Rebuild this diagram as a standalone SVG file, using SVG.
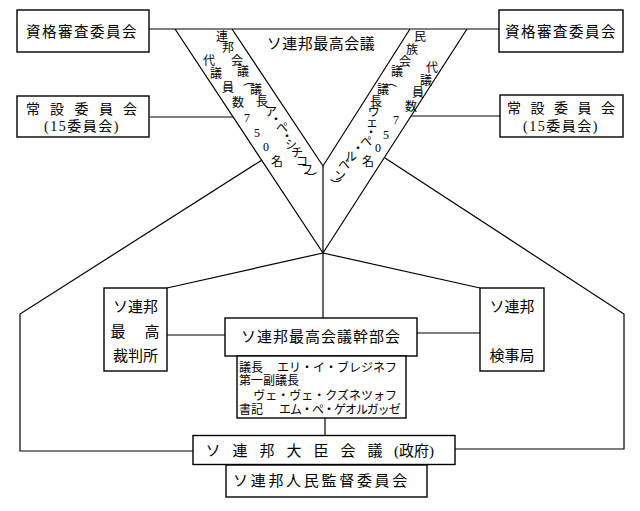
<svg xmlns="http://www.w3.org/2000/svg" width="640" height="511" viewBox="0 0 640 511">
<style>
.b{fill:#fff;stroke:#000;stroke-width:1.4}
.c{fill:none;stroke:#000;stroke-width:1.2}
text{font-family:"Liberation Serif","Noto Sans CJK JP",serif;fill:#000}
.m{text-anchor:middle;dominant-baseline:central}
.s{dominant-baseline:central}
.v{text-anchor:middle;dominant-baseline:central;font-size:12px}
</style>
<rect width="640" height="511" fill="#fff"/>
<g id="connectors" class="c">
<path d="M149,29H175M467,29H499"/>
<path d="M150,117H233M411,116H500"/>
<path d="M323,166V318"/>
<path d="M262,160L20,314V451H193"/>
<path d="M385,158L624,314V449H455"/>
<path d="M323,253L167,288M323,253L480,288"/>
<path d="M167,335H225M417,333H480"/>
<path d="M325,418V435.5"/>
</g>
<g id="supreme-soviet">
<path class="c" d="M175,29H467M175,29L323,253L467,29M232,29L323,166L410,29"/>
<text class="m" x="321" y="44" font-size="15" letter-spacing="0.5">ソ連邦最高会議</text>
<text class="v"><tspan x="222" y="37">連</tspan><tspan x="228" y="48">邦</tspan><tspan x="237" y="61">会</tspan><tspan x="243" y="72">議</tspan><tspan x="249" y="81">︵</tspan><tspan x="256" y="90">議</tspan><tspan x="262" y="102">長</tspan><tspan x="271" y="112">ア</tspan><tspan x="276" y="120">・</tspan><tspan x="282" y="128">ペ</tspan><tspan x="287" y="137">・</tspan><tspan x="291" y="145">シ</tspan><tspan x="297" y="153">チ</tspan><tspan x="302" y="162">コ</tspan><tspan x="307" y="170">フ</tspan><tspan x="311" y="179">︶</tspan></text>
<text class="v"><tspan x="209" y="61">代</tspan><tspan x="216" y="74">議</tspan><tspan x="228" y="88">員</tspan><tspan x="238" y="103">数</tspan><tspan x="247" y="118">7</tspan><tspan x="257" y="133">5</tspan><tspan x="266" y="147">0</tspan><tspan x="277" y="162">名</tspan></text>
<text class="v"><tspan x="420" y="37">民</tspan><tspan x="412" y="50">族</tspan><tspan x="405" y="62">会</tspan><tspan x="397" y="72">議</tspan><tspan x="391" y="82">︵</tspan><tspan x="383" y="90">議</tspan><tspan x="376" y="102">長</tspan><tspan x="374" y="112">ヴ</tspan><tspan x="372" y="123">ェ</tspan><tspan x="371" y="133">・</tspan><tspan x="366" y="142">ペ</tspan><tspan x="358" y="149">・</tspan><tspan x="351" y="157">ル</tspan><tspan x="344" y="165">ベ</tspan><tspan x="340" y="176">ン</tspan><tspan x="336" y="186">︶</tspan></text>
<text class="v"><tspan x="432" y="68">代</tspan><tspan x="426" y="81">議</tspan><tspan x="418" y="93">員</tspan><tspan x="411" y="107">数</tspan><tspan x="396" y="120">7</tspan><tspan x="386" y="135">5</tspan><tspan x="378" y="148">0</tspan><tspan x="368" y="162">名</tspan></text>
</g>
<g id="credentials-left">
<rect class="b" x="17" y="10" width="132" height="42"/>
<text class="m" x="82" y="32" font-size="14.5" letter-spacing="1.5">資格審査委員会</text>
</g>
<g id="standing-left">
<rect class="b" x="17" y="96" width="132" height="41"/>
<text class="s" y="109" font-size="14"><tspan x="26">常 </tspan><tspan x="50">設 </tspan><tspan x="74.5">委 </tspan><tspan x="99">員 </tspan><tspan x="123">会</tspan></text>
<text class="m" x="82" y="126" font-size="14" letter-spacing="1.5">(15委員会)</text>
</g>
<g id="credentials-right">
<rect class="b" x="499" y="10" width="124" height="42"/>
<text class="m" x="561" y="32" font-size="14.5" letter-spacing="1.5">資格審査委員会</text>
</g>
<g id="standing-right">
<rect class="b" x="500" y="95" width="123" height="42"/>
<text class="s" y="108" font-size="14"><tspan x="507">常 </tspan><tspan x="530.5">設 </tspan><tspan x="554">委 </tspan><tspan x="577.5">員 </tspan><tspan x="601">会</tspan></text>
<text class="m" x="561" y="126" font-size="14" letter-spacing="1.5">(15委員会)</text>
</g>
<g id="supreme-court">
<rect class="b" x="104" y="288" width="63" height="83"/>
<text class="m" x="135.5" y="307" font-size="15">ソ連邦</text>
<text class="s" y="332" font-size="15"><tspan x="110.5">最 </tspan><tspan x="144.5">高</tspan></text>
<text class="m" x="135.5" y="356" font-size="15">裁判所</text>
</g>
<g id="presidium">
<rect class="b" x="225" y="318" width="192" height="38"/>
<text class="m" x="321" y="337" font-size="15" letter-spacing="1">ソ連邦最高会議幹部会</text>
</g>
<g id="presidium-members">
<rect class="b" x="237" y="356" width="169" height="62"/>
<text class="s" x="239" y="367.5" font-size="12">議長　<tspan x="277">エリ・イ・ブレジネフ</tspan></text>
<text class="s" x="239" y="381" font-size="12">第一副議長</text>
<text class="s" x="397" y="395.5" font-size="12" text-anchor="end">ヴェ・ヴェ・クズネツォフ</text>
<text class="s" x="239" y="409.5" font-size="12">書記　<tspan x="279" letter-spacing="-1">エム・ペ・ゲオルガッゼ</tspan></text>
</g>
<g id="procuracy">
<rect class="b" x="480" y="288" width="64" height="83"/>
<text class="m" x="512" y="307" font-size="15">ソ連邦</text>
<text class="m" x="512" y="356" font-size="15">検事局</text>
</g>
<g id="council-of-ministers">
<rect class="b" x="193" y="435.5" width="262" height="29"/>
<text class="s" y="451" font-size="15"><tspan x="205.5">ソ </tspan><tspan x="232.5">連 </tspan><tspan x="259.5">邦 </tspan><tspan x="286.5">大 </tspan><tspan x="313.5">臣 </tspan><tspan x="340.5">会 </tspan><tspan x="367.5">議 </tspan><tspan x="394">(政府)</tspan></text>
</g>
<g id="peoples-control">
<rect class="b" x="226" y="465" width="201" height="32"/>
<text class="m" x="321.5" y="481" font-size="15" letter-spacing="2.7">ソ連邦人民監督委員会</text>
</g>
</svg>
